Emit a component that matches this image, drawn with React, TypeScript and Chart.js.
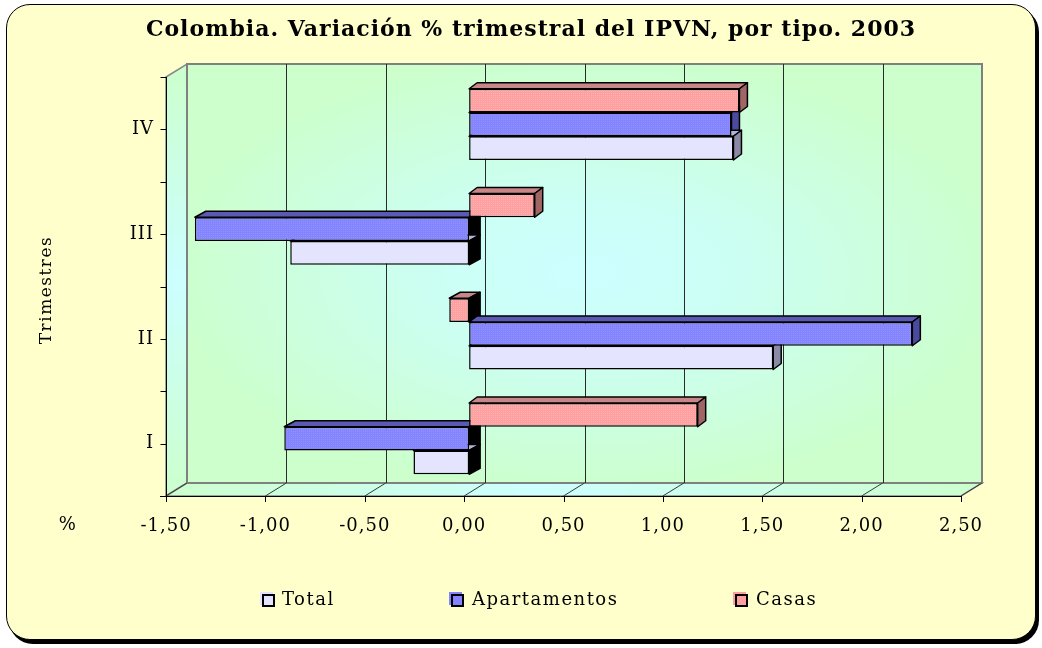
import React, { useEffect, useRef } from 'react';
import { Chart, registerables } from 'chart.js';

Chart.register(...registerables);

// ---- data ----
const categories = ['I', 'II', 'III', 'IV'];
const seriesNames = ['Total', 'Apartamentos', 'Casas'];
const totalValues = [-0.28, 1.53, -0.9, 1.33];
const apartamentosValues = [-0.93, 2.23, -1.38, 1.32];
const casasValues = [1.15, -0.1, 0.33, 1.36];
const xTickValues = [-1.5, -1, -0.5, 0, 0.5, 1, 1.5, 2, 2.5];
const titleText = 'Colombia. Variación % trimestral del IPVN, por tipo. 2003';
const yAxisTitle = 'Trimestres';
const xAxisUnit = '%';

// ---- styles ----
const FONT = '"DejaVu Serif", "Liberation Serif", serif';
const frontColors = ['#e4e4ff', '#8484ff', '#ffa0a0'];
const dotColors = ['#e4e4ff', '#9090ff', '#ffb0b0'];
const topColors = ['#b4b4d4', '#5a5ab4', '#c88686'];
const sideColors = ['#8a8aa6', '#4a4a9e', '#a06666'];
const WALL_DX = 21;
const WALL_DY = -13;
const BAR_SHIFT_X = 5;
const BAR_SHIFT_Y = -5;
const TICK_SPACING = '1px';

function makePattern(base: string, dot: string) {
  const c = document.createElement('canvas');
  c.width = 2;
  c.height = 2;
  const g = c.getContext('2d')!;
  g.fillStyle = base;
  g.fillRect(0, 0, 2, 2);
  g.fillStyle = dot;
  g.fillRect(0, 0, 1, 1);
  const ctx = document.createElement('canvas').getContext('2d')!;
  return ctx.createPattern(c, 'repeat') as CanvasPattern;
}

function poly(ctx: CanvasRenderingContext2D, pts: number[][]) {
  ctx.beginPath();
  ctx.moveTo(pts[0][0], pts[0][1]);
  for (let i = 1; i < pts.length; i++) ctx.lineTo(pts[i][0], pts[i][1]);
  ctx.closePath();
}

const GREEN = '#ccffcc';
const CYAN = '#ccffff';

const wallsPlugin = {
  id: 'walls3d',
  beforeDraw(chart: any) {
    const ctx: CanvasRenderingContext2D = chart.ctx;
    const xs = chart.scales.x;
    const { top: T, bottom: B } = chart.chartArea;
    const L = xs.getPixelForValue(xTickValues[0]);
    const R = xs.getPixelForValue(xTickValues[xTickValues.length - 1]);
    ctx.save();
    // left wall
    let g = ctx.createLinearGradient(0, T + WALL_DY, 0, B);
    g.addColorStop(0, GREEN);
    g.addColorStop(0.5, CYAN);
    g.addColorStop(1, GREEN);
    poly(ctx, [[L, T], [L + WALL_DX, T + WALL_DY], [L + WALL_DX, B + WALL_DY], [L, B]]);
    ctx.fillStyle = g;
    ctx.fill();
    ctx.strokeStyle = '#888888';
    ctx.lineWidth = 1.5;
    ctx.stroke();
    // floor
    g = ctx.createLinearGradient(L, 0, R + WALL_DX, 0);
    g.addColorStop(0, GREEN);
    g.addColorStop(0.45, CYAN);
    g.addColorStop(1, GREEN);
    poly(ctx, [[L, B], [L + WALL_DX, B + WALL_DY], [R + WALL_DX, B + WALL_DY], [R, B]]);
    ctx.fillStyle = g;
    ctx.fill();
    ctx.stroke();
    // back wall with gradient from centre
    const bx0 = L + WALL_DX, by0 = T + WALL_DY, bx1 = R + WALL_DX, by1 = B + WALL_DY;
    const cx = (bx0 + bx1) / 2, cy = (by0 + by1) / 2;
    const hw = (bx1 - bx0) / 2, hh = (by1 - by0) / 2;
    ctx.save();
    ctx.beginPath();
    ctx.rect(bx0, by0, bx1 - bx0, by1 - by0);
    ctx.clip();
    ctx.translate(cx, cy);
    ctx.scale(hw, hh);
    const rg = ctx.createRadialGradient(0, 0, 0, 0, 0, 1.05);
    rg.addColorStop(0, CYAN);
    rg.addColorStop(0.35, '#ccfff4');
    rg.addColorStop(1, GREEN);
    ctx.fillStyle = rg;
    ctx.fillRect(-1.5, -1.5, 3, 3);
    ctx.restore();
    ctx.strokeStyle = '#808080';
    ctx.lineWidth = 2;
    ctx.strokeRect(bx0, by0, bx1 - bx0, by1 - by0);
    // grid lines on back wall & floor
    ctx.lineWidth = 1;
    xTickValues.forEach((v, i) => {
      const px = xs.getPixelForValue(v);
      if (i > 0 && i < xTickValues.length - 1) {
        ctx.strokeStyle = '#2a2a2a';
        ctx.beginPath();
        ctx.moveTo(Math.round(px + WALL_DX) + 0.5, by0);
        ctx.lineTo(Math.round(px + WALL_DX) + 0.5, by1);
        ctx.stroke();
      }
      ctx.strokeStyle = '#3a3a3a';
      ctx.beginPath();
      ctx.moveTo(px, B);
      ctx.lineTo(px + WALL_DX, B + WALL_DY);
      ctx.stroke();
    });
    // front axes
    ctx.strokeStyle = '#000';
    ctx.lineWidth = 1;
    ctx.beginPath();
    ctx.moveTo(L - 6, Math.round(B) + 0.5);
    ctx.lineTo(R, Math.round(B) + 0.5);
    ctx.stroke();
    xTickValues.forEach((v) => {
      const px = Math.round(xs.getPixelForValue(v)) + 0.5;
      ctx.beginPath();
      ctx.moveTo(px, B);
      ctx.lineTo(px, B + 6);
      ctx.stroke();
    });
    const ax = Math.round(L) + 0.5;
    ctx.beginPath();
    ctx.moveTo(ax, T);
    ctx.lineTo(ax, B);
    ctx.stroke();
    const n = categories.length;
    for (let k = 0; k <= 2 * n; k++) {
      const py = Math.round(T + ((B - T) * k) / (2 * n)) + 0.5;
      ctx.beginPath();
      ctx.moveTo(ax - 6, py);
      ctx.lineTo(ax, py);
      ctx.stroke();
    }
    ctx.restore();
    ctx.letterSpacing = TICK_SPACING;
  },
  beforeDatasetsDraw(chart: any) {
    const ctx: CanvasRenderingContext2D = chart.ctx;
    ctx.save();
    ctx.translate(BAR_SHIFT_X, BAR_SHIFT_Y);
    ctx.lineWidth = 1.5;
    ctx.strokeStyle = '#000';
    ctx.lineJoin = 'round';
    chart.data.datasets.forEach((ds: any, di: number) => {
      const i = ds.seriesIndex;
      const meta = chart.getDatasetMeta(di);
      meta.data.forEach((bar: any) => {
        const { x, y, base, height } = bar.getProps(['x', 'y', 'base', 'height'], true);
        const top = y - height / 2;
        const bottom = y + height / 2;
        const neg = x < base;
        const left = Math.min(x, base);
        const right = Math.max(x, base);
        const dx = neg ? 11 : 8;
        const dy = -6;
        poly(ctx, [[left, top], [right, top], [right + dx, top + dy], [left + dx, top + dy]]);
        ctx.fillStyle = topColors[i];
        ctx.fill();
        ctx.stroke();
        poly(ctx, [[right, top], [right + dx, top + dy], [right + dx, bottom + dy], [right, bottom]]);
        ctx.fillStyle = neg ? '#000000' : sideColors[i];
        ctx.fill();
        ctx.stroke();
      });
    });
  },
  afterDatasetsDraw(chart: any) {
    chart.ctx.restore();
  },
  afterDraw(chart: any) {
    const ctx: CanvasRenderingContext2D = chart.ctx;
    ctx.save();
    ctx.fillStyle = '#000';
    ctx.textBaseline = 'middle';
    // title
    ctx.letterSpacing = '1px';
    ctx.font = `bold 22px ${FONT}`;
    ctx.textAlign = 'center';
    ctx.fillText(titleText, 531, 30);
    // y title
    ctx.letterSpacing = '1.5px';
    ctx.font = `17px ${FONT}`;
    ctx.save();
    ctx.translate(47, 290);
    ctx.rotate(-Math.PI / 2);
    ctx.fillText(yAxisTitle, 0, 0);
    ctx.restore();
    // unit
    ctx.font = `18px ${FONT}`;
    ctx.fillText(xAxisUnit, 68, 525);
    // legend
    const items = [
      { x: 262, tx: 282 },
      { x: 451, tx: 472 },
      { x: 735, tx: 756 },
    ];
    ctx.font = `18px ${FONT}`;
    ctx.letterSpacing = '1.5px';
    ctx.textAlign = 'left';
    items.forEach((it, i) => {
      ctx.fillStyle = frontColors[i];
      ctx.fillRect(it.x - 2, 592, 13, 13);
      ctx.fillRect(it.x, 594, 13, 13);
      ctx.strokeStyle = '#000';
      ctx.lineWidth = 2;
      ctx.strokeRect(it.x + 1, 595, 11, 11);
      ctx.fillStyle = '#000';
      ctx.fillText(seriesNames[i], it.tx, 600);
    });
    ctx.restore();
  },
};

export default function App() {
  const ref = useRef<HTMLCanvasElement | null>(null);
  useEffect(() => {
    if (!ref.current) return;
    const values = [totalValues, apartamentosValues, casasValues];
    // Casas drawn first (top of each band), Total last (bottom of each band)
    const order = [2, 1, 0];
    const chart = new Chart(ref.current, {
      type: 'bar',
      data: {
        labels: categories,
        datasets: order.map((i) => ({
          label: seriesNames[i],
          seriesIndex: i,
          data: values[i],
          backgroundColor: i === 0 ? frontColors[0] : makePattern(frontColors[i], dotColors[i]),
          borderColor: '#000',
          borderWidth: 1.5,
          borderSkipped: false,
          categoryPercentage: 0.68,
          barPercentage: 1,
        })),
      },
      options: {
        indexAxis: 'y',
        responsive: false,
        animation: false,
        events: [],
        layout: { padding: { left: 0, right: 81, top: 77, bottom: 102 } },
        plugins: {
          legend: { display: false },
          title: { display: false },
          tooltip: { enabled: false },
        },
        scales: {
          x: {
            type: 'linear',
            min: -1.5,
            max: 2.5,
            afterBuildTicks: (s: any) => {
              s.ticks = xTickValues.map((v) => ({ value: v }));
            },
            ticks: {
              callback: (v: any) => Number(v).toFixed(2).replace('.', ','),
              font: { family: FONT, size: 18 },
              color: '#000',
              padding: 20,
              maxRotation: 0,
              autoSkip: false,
            },
            grid: { display: false, drawTicks: false },
            border: { display: false },
            afterFit: (s: any) => {
              s.height = 50;
            },
          },
          y: {
            reverse: true,
            ticks: {
              font: { family: FONT, size: 18 },
              color: '#000',
              padding: 12,
            },
            grid: { display: false, drawTicks: false },
            border: { display: false },
            afterFit: (s: any) => {
              s.width = 166;
            },
          },
        },
      },
      plugins: [wallsPlugin],
    } as any);
    return () => chart.destroy();
  }, []);

  return (
    <div style={{ position: 'fixed', left: 0, top: 0, width: 1042, height: 648, background: '#ffffff' }}>
      <div
        style={{
          position: 'absolute',
          left: 6,
          top: 4,
          width: 1028,
          height: 634,
          border: '1.5px solid #000',
          borderRadius: 24,
          background: '#ffffcc',
          boxShadow: '3px 4px 0 #000',
        }}
      />
      <canvas ref={ref} width={1042} height={648} style={{ position: 'absolute', left: 0, top: 0 }} />
    </div>
  );
}
